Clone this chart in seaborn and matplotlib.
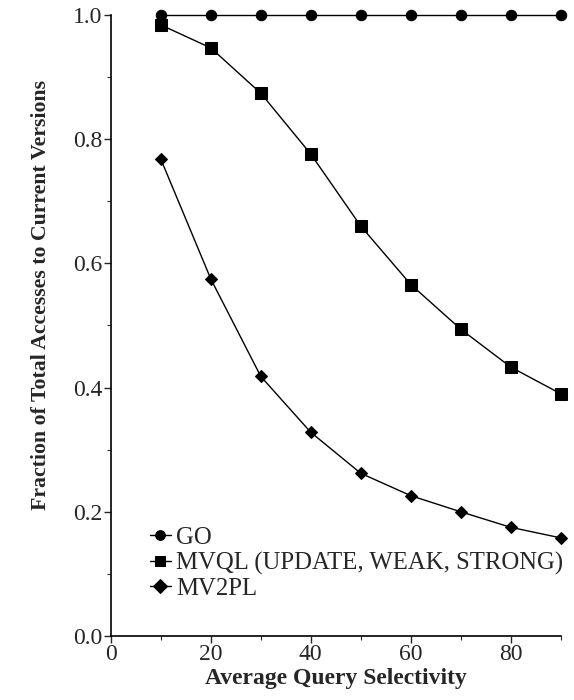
import matplotlib
matplotlib.use("Agg")
import matplotlib.pyplot as plt
import seaborn as sns
import pandas as pd
from matplotlib.ticker import MultipleLocator

sns.set_style("ticks")
plt.rcParams['font.family'] = ['Liberation Serif', 'DejaVu Serif']

selectivity = [10, 20, 30, 40, 50, 60, 70, 80, 90]
go = [1.0, 1.0, 1.0, 1.0, 1.0, 1.0, 1.0, 1.0, 1.0]
mvql = [0.984, 0.947, 0.874, 0.776, 0.660, 0.566, 0.494, 0.433, 0.390]
mv2pl = [0.768, 0.575, 0.418, 0.328, 0.262, 0.226, 0.200, 0.175, 0.158]
labels = ["GO", "MVQL (UPDATE, WEAK, STRONG)", "MV2PL"]
markers = ["o", "s", "D"]
msizes = [7.5, 8.5, 6.5]

fig = plt.figure(figsize=(5.74, 7.0), dpi=100)
ax = fig.add_axes([0.193, 0.0914, 0.784, 0.8872])

for vals, lab, mk, ms in zip([go, mvql, mv2pl], labels, markers, msizes):
    df = pd.DataFrame({"x": selectivity, "y": vals})
    sns.lineplot(data=df, x="x", y="y", ax=ax, color="black", marker=mk,
                 markersize=ms, markeredgecolor="black", linewidth=1.0,
                 label=lab, clip_on=False)

ax.set_xlim(0, 90)
ax.set_ylim(0, 1.0)
ax.xaxis.set_major_locator(MultipleLocator(20))
ax.xaxis.set_minor_locator(MultipleLocator(10))
ax.yaxis.set_major_locator(MultipleLocator(0.2))
ax.yaxis.set_minor_locator(MultipleLocator(0.1))
ax.set_yticklabels([f"{v:.1f}" for v in ax.get_yticks()])
ax.tick_params(axis="both", which="major", direction="out", length=5, width=1, labelsize=17, pad=1)
ax.tick_params(axis="both", which="minor", direction="out", length=3, width=0.8)
sns.despine(ax=ax)
for s in ["left", "bottom"]:
    ax.spines[s].set_linewidth(1.2)
    ax.spines[s].set_color("black")

ax.set_xlabel("Average Query Selectivity", fontsize=17, fontweight="bold", labelpad=2)
ax.set_ylabel("Fraction of Total Accesses to Current Versions", fontsize=15.7, fontweight="bold")
ax.yaxis.set_label_coords(-0.132, 0.549)

leg = ax.legend(loc="lower left", frameon=False, fontsize=17.8, handlelength=0.85,
                handletextpad=0.2, labelspacing=0.12, borderaxespad=0, borderpad=0,
                bbox_to_anchor=(0.087, 0.058))
for h in leg.legend_handles:
    h.set_markersize(7)

fig.savefig("out.png", dpi=100)
